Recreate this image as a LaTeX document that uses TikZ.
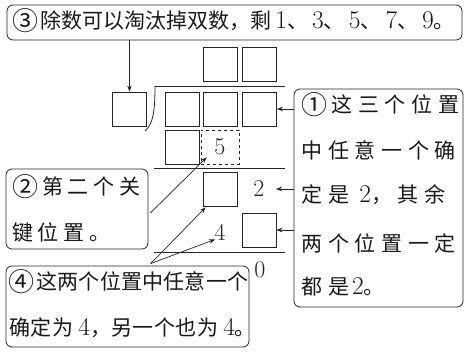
\documentclass[tikz,border=0pt]{standalone}
\usepackage{fontspec}
\newfontfamily\cjk{Noto Sans CJK SC}
\usetikzlibrary{arrows.meta,calc}
\newcommand\dg[1]{{\rmfamily\fontsize{25.5}{20}\selectfont #1}}
\newcommand\cn[1]{\raisebox{-2.3pt}{\fontsize{26}{20}\selectfont #1}}
\begin{document}
\begin{tikzpicture}[x=1pt,y=-1pt,line width=0.8pt,draw=black!85,
  sq/.style={draw,minimum width=34pt,minimum height=34pt,inner sep=0pt},
  callout/.style={draw,rounded corners=6pt,inner sep=0pt},
  txt/.style={anchor=west,inner sep=0pt,font=\cjk\fontsize{21}{21}\selectfont,text=black!90},
  num/.style={inner sep=0pt,font=\rmfamily\fontsize{24}{24}\selectfont,text=black!85},
  arr/.style={-{Stealth[length=6pt,width=4.5pt]},line width=0.7pt}]
\useasboundingbox (0,0) rectangle (465,356);
% callout boxes
\node[callout,minimum width=455pt,minimum height=35pt] (b3) at (234.5,22.5) {};
\node[callout,minimum width=169pt,minimum height=218pt] (b1) at (378.5,198) {};
\node[callout,minimum width=142pt,minimum height=80pt] (b2) at (77,209) {};
\node[callout,minimum width=243pt,minimum height=81pt] (b4) at (127.5,306.5) {};
% texts
\node[txt] (t3) at (12,21) {\cn{③}\hspace{2pt}除数可以淘汰掉双数，剩\hspace{4pt}\dg{1}、\hspace{4pt}\dg{3}、\hspace{4pt}\dg{5}、\hspace{4pt}\dg{7}、\hspace{4pt}\dg{9}。};
\node[txt] (t1a) at (301,105) {\addfontfeatures{LetterSpace=27}\cn{①}\hspace{4pt}这三个位置};
\node[txt] (t1b) at (301,150) {\addfontfeatures{LetterSpace=27}中任意一个确};
\node[txt] (t1c) at (301,195) {\addfontfeatures{LetterSpace=27}定是 \dg{2}，其余};
\node[txt] (t1d) at (301,243) {\addfontfeatures{LetterSpace=27}两个位置一定};
\node[txt] (t1e) at (301,287) {\addfontfeatures{LetterSpace=27}都是\hspace{3pt}\dg{2}。};
\node[txt] (t2a) at (12,187) {\addfontfeatures{LetterSpace=22}\cn{②}\hspace{4pt}第二个关};
\node[txt] (t2b) at (12,232) {\addfontfeatures{LetterSpace=22}键位置。};
\node[txt] (t4a) at (8,282) {\addfontfeatures{LetterSpace=1}\cn{④}\hspace{2pt}这两个位置中任意一个};
\node[txt] (t4b) at (9,328) {\addfontfeatures{LetterSpace=2}确定为 \dg{4}，另一个也为 \dg{4}。};
% division layout
\node[sq] (q1) at (220,64) {};
\node[sq] (q2) at (259.5,64) {};
\node[sq] (dv) at (129.5,109) {};
\node[sq] (d1) at (182,109) {};
\node[sq] (d2) at (220.5,109) {};
\node[sq] (d3) at (259.5,109) {};
\node[sq] (p1) at (182,147) {};
\node[sq,dashed,minimum width=38pt,line width=0.7pt,font=\rmfamily\fontsize{24}{24}\selectfont,text=black!85] (p2) at (220,147) {5};
\node[sq] (r) at (220,189) {};
\node[num] (two) at (259,189) {2};
\node[num] (four) at (220,232) {4};
\node[sq] (s) at (259,230) {};
\node[num] (zero) at (260,270) {0};
\draw (155,86) -- (285,86);
\draw (155,86) .. controls (155,112) and (153,124) .. (145,131);
\draw (154,168) -- (285,168);
\draw (154,252) -- (285,252);
% connectors
\draw[arr] (b3.south -| dv.north) -- (dv.north);
\draw[arr] (b1.west |- d3.east) -- (d3.east);
\coordinate (twoR) at (276,189);
\draw[arr] (b1.west |- twoR) -- (twoR);
\draw[arr] (b1.west |- s.east) -- (s.east);
\draw[arr] ($(b2.east)+(2,4)$) -- ($(p2.south west)+(6,-7)$);
\coordinate (b4top) at ($(b4.north west)+(145,-2)$);
\draw[arr] (b4top) -- ($(r.south west)+(3,1)$);
\draw[arr] (b4top) -- ($(four.south west)+(1,-1)$);
\end{tikzpicture}
\end{document}
